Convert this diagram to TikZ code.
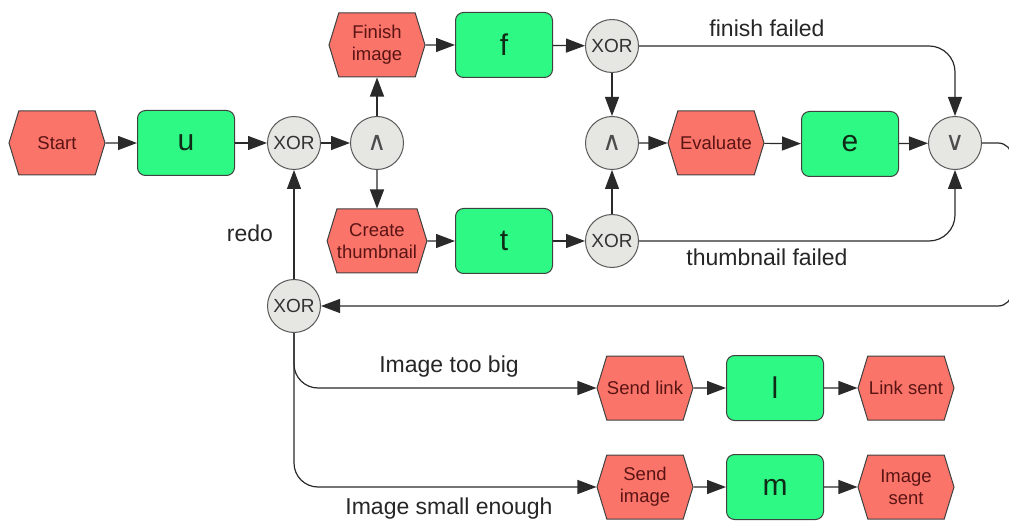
\documentclass[tikz,border=0pt]{standalone}
\usepackage{fontspec}
\setmainfont{Liberation Sans}
\newfontfamily\symfont{DejaVu Sans}
\usetikzlibrary{arrows.meta,shapes.symbols}

\definecolor{evfill}{HTML}{FA7469}
\definecolor{evtext}{HTML}{5A1414}
\definecolor{fnfill}{HTML}{2EF985}
\definecolor{fntext}{HTML}{0F2A16}
\definecolor{gatefill}{HTML}{E6E6E2}
\definecolor{linecol}{HTML}{2A2A2A}

\tikzset{
  event/.style={shape=signal, signal to=east and west, signal pointer angle=146,
    fill=evfill, draw=black!75, line width=1pt, minimum width=96pt, minimum height=64pt,
    inner sep=0pt, font=\fontsize{18.5}{22}\selectfont, text=evtext, align=center},
  func/.style={rectangle, rounded corners=8pt, fill=fnfill, draw=black!75, line width=1pt,
    minimum width=97pt, minimum height=65pt, inner sep=0pt,
    font=\fontsize{30}{30}\selectfont, text=fntext},
  gate/.style={circle, fill=gatefill, draw=black!65, line width=1pt, minimum size=53pt,
    inner sep=0pt, font=\fontsize{19}{19}\selectfont, text=black!80},
  symgate/.style={gate, font=\symfont\fontsize{26}{26}\selectfont, text=black!70},
  flow/.style={line width=1.2pt, draw=linecol, -{Triangle[length=19pt,width=14pt]}},
  lbl/.style={font=\fontsize{23}{23}\selectfont, text=black!85, inner sep=0pt}
}

\begin{document}
\begin{tikzpicture}[x=1pt,y=-1pt]
\useasboundingbox (0,0) rectangle (1009,521);

% events
\node[event] (start) at (57,143) {Start};
\node[event] (finimg) at (377,45) {Finish\\image};
\node[event] (crthumb) at (377,241) {Create\\thumbnail};
\node[event] (evaluate) at (716,143) {Evaluate};
\node[event] (sendlink) at (645,388) {Send link};
\node[event] (linksent) at (906,388) {Link sent};
\node[event] (sendimg) at (645,487) {Send\\image};
\node[event] (imgsent) at (906,487) {Image\\sent};

% functions
\node[func] (u) at (186,143) {u};
\node[func] (f) at (504,45) {f};
\node[func] (t) at (504,241) {t};
\node[func] (e) at (850,144) {e};
\node[func] (l) at (775,388) {l};
\node[func] (m) at (775,487) {m};

% connectors (gates)
\node[gate] (xa) at (294,143) {XOR};
\node[symgate] (anda) at (377,143) {∧};
\node[gate] (xb) at (612,46) {XOR};
\node[symgate] (andb) at (612,143) {∧};
\node[gate] (xc) at (612,241) {XOR};
\node[symgate] (orc) at (955,143) {∨};
\node[gate] (xd) at (294,306) {XOR};

% control flow
\draw[flow] (start) -- (u);
\draw[flow] (u) -- (xa);
\draw[flow] (xa) -- (anda);
\draw[flow] (anda) -- (finimg);
\draw[flow] (anda) -- (crthumb);
\draw[flow] (finimg) -- (f);
\draw[flow] (crthumb) -- (t);
\draw[flow] (f) -- (xb);
\draw[flow] (t) -- (xc);
\draw[flow] (xb) -- (andb);
\draw[flow] (xc) -- (andb);
\draw[flow] (andb) -- (evaluate);
\draw[flow] (evaluate) -- (e);
\draw[flow] (e) -- (orc);
\draw[flow, rounded corners=26pt] (xb.east) -| (orc.north);
\draw[flow, rounded corners=26pt] (xc.east) -| (orc.south);
\coordinate (loopa) at (1012,143);
\coordinate (loopb) at (1012,306);
\draw[flow, rounded corners=14pt] (orc.east) -- (loopa) -- (loopb) -- (xd.east);
\draw[flow] (xd) -- (xa);
\draw[flow, rounded corners=24pt] (xd.south) |- (sendlink.west);
\draw[flow, rounded corners=24pt] (xd.south) |- (sendimg.west);
\draw[flow] (sendlink) -- (l);
\draw[flow] (l) -- (linksent);
\draw[flow] (sendimg) -- (m);
\draw[flow] (m) -- (imgsent);

% labels
\node[lbl] (lfin) at (767,28) {finish failed};
\node[lbl] (lthumb) at (767,257) {thumbnail failed};
\node[lbl] (lredo) at (250,233) {redo};
\node[lbl] (lbig) at (449,367) {Image too big};
\node[lbl] (lsmall) at (449,509) {Image small enough};
\end{tikzpicture}
\end{document}
